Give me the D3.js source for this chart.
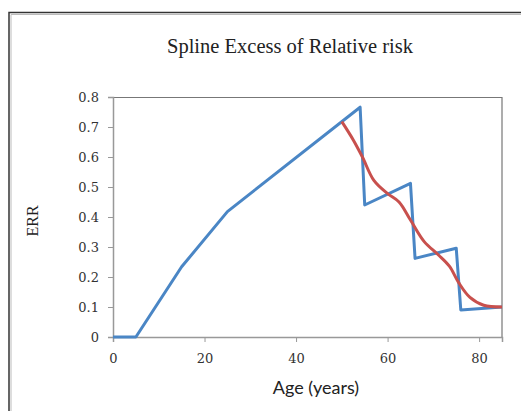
<!DOCTYPE html>
<html>
<head>
<meta charset="utf-8">
<script src="https://cdn.jsdelivr.net/npm/d3@7"></script>
<style>
  body { margin: 0; background: #fff; }
  svg { display: block; }
</style>
</head>
<body>
<div id="chart"></div>
<script>
// data
const blueAge = [0, 5, 15, 25, 54, 55, 65, 66, 75, 76, 85];
const blueErr = [0, 0, 0.234, 0.418, 0.766, 0.44, 0.512, 0.262, 0.296, 0.09, 0.1];

const splineAge = [50, 52.5, 54.5, 57, 60, 62.5, 65, 68, 71, 73.5, 75.5, 78, 81, 85];
const splineErr = [0.718, 0.657, 0.6, 0.522, 0.478, 0.45, 0.39, 0.318, 0.275, 0.236, 0.182, 0.132, 0.106, 0.1];

const xTicks = [0, 20, 40, 60, 80];
const yTicks = [0, 0.1, 0.2, 0.3, 0.4, 0.5, 0.6, 0.7, 0.8];

const W = 521, H = 411;
const margin = {top: 97, right: 19, bottom: 74, left: 113};
const width = W - margin.left - margin.right,
      height = H - margin.top - margin.bottom;

const svg = d3.select("#chart")
  .append("svg")
  .attr("width", W)
  .attr("height", H);

// outer chart frame
svg.append("path")
  .attr("d", `M9,${H} V12.5 H${W}`)
  .attr("fill", "none")
  .attr("stroke", "#333")
  .attr("stroke-width", 1.5);
svg.append("path")
  .attr("d", `M11,${H} V14.5 H${W}`)
  .attr("fill", "none")
  .attr("stroke", "#bbb")
  .attr("stroke-width", 1);

svg.append("text")
  .attr("x", 290)
  .attr("y", 53)
  .attr("text-anchor", "middle")
  .style("font-family", "'Liberation Serif', 'DejaVu Serif', serif")
  .style("font-size", "20.5px")
  .style("fill", "#222")
  .text("Spline Excess of Relative risk");

const g = svg.append("g")
  .attr("transform", `translate(${margin.left},${margin.top})`);

const x = d3.scaleLinear().domain([0, 85]).range([0, width]);
const y = d3.scaleLinear().domain([0, 0.8]).range([height, 0]);

// plot area border (top + right)
g.append("path")
  .attr("d", `M0,0.5 H${width} V${height}`)
  .attr("fill", "none")
  .attr("stroke", "#777")
  .attr("stroke-width", 1.2);

const xAxis = g.append("g")
  .attr("transform", `translate(0,${height})`)
  .call(d3.axisBottom(x).tickValues(xTicks).tickSize(5).tickPadding(12).tickFormat(d3.format("d")));

const yAxis = g.append("g")
  .call(d3.axisLeft(y).tickValues(yTicks).tickSize(5).tickPadding(9)
    .tickFormat(d => d === 0 ? "0" : d3.format(".1f")(d)));

[xAxis, yAxis].forEach(a => {
  a.select(".domain").attr("stroke", "#999").attr("stroke-width", 1.5);
  a.selectAll(".tick line").attr("stroke", "#999");
  a.selectAll("text")
    .attr("font-family", "'DejaVu Serif', serif")
    .attr("font-size", 13)
    .attr("fill", "#333");
});

const blue = blueAge.map((a, i) => [a, blueErr[i]]);
const spline = splineAge.map((a, i) => [a, splineErr[i]]);

g.append("path")
  .datum(blue)
  .attr("fill", "none")
  .attr("stroke", "#4a86c5")
  .attr("stroke-width", 3)
  .attr("stroke-linejoin", "round")
  .attr("d", d3.line().x(d => x(d[0])).y(d => y(d[1])));

g.append("path")
  .datum(spline)
  .attr("fill", "none")
  .attr("stroke", "#c8504d")
  .attr("stroke-width", 3)
  .attr("d", d3.line().curve(d3.curveCatmullRom.alpha(0.5)).x(d => x(d[0])).y(d => y(d[1])));

svg.append("text")
  .attr("x", 316)
  .attr("y", 394)
  .attr("text-anchor", "middle")
  .style("font-family", "Lato, 'Open Sans', sans-serif")
  .style("font-size", "18px")
  .style("fill", "#222")
  .text("Age (years)");

svg.append("text")
  .attr("transform", "translate(38,221) rotate(-90)")
  .attr("text-anchor", "middle")
  .style("font-family", "'Liberation Serif', 'DejaVu Serif', serif")
  .style("font-size", "16px")
  .style("fill", "#222")
  .text("ERR");
</script>
</body>
</html>
